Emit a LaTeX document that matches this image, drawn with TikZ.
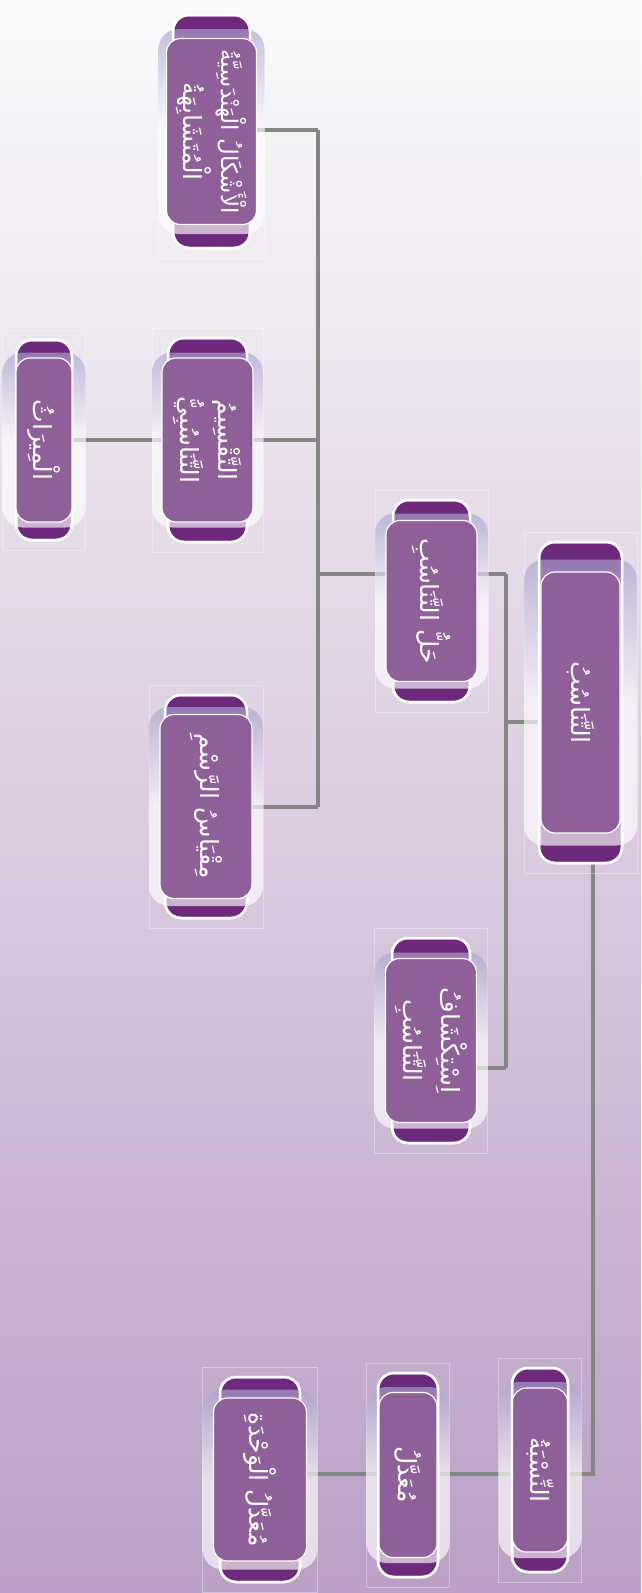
\documentclass[tikz,border=0pt]{standalone}
\usepackage{fontspec}
\newfontfamily\arabicfont[Script=Arabic]{DejaVu Sans}
\TeXXeTstate=1
\usetikzlibrary{calc}
\pgfdeclarelayer{bg}
\pgfdeclarelayer{lines}
\pgfsetlayers{bg,lines,main}
\definecolor{capc}{HTML}{6D2A7C}
\definecolor{innc}{HTML}{8E5F99}
\definecolor{linec}{HTML}{858585}
\definecolor{bgtop}{HTML}{FAFAFB}
\definecolor{bgmid}{HTML}{DCCDE0}
\definecolor{bgbot}{HTML}{B9A0C4}
\definecolor{glowtop}{HTML}{A9A4CE}
\tikzset{
 capsule/.style={draw=white, line width=2.5pt, fill=capc, rounded corners=16pt, inner sep=0pt, outer sep=0pt},
 capline/.style={draw=white, line width=2.5pt, rounded corners=16pt, inner sep=0pt, outer sep=0pt},
 glow/.style={rounded corners=20pt, top color=glowtop, bottom color=white, middle color=white, fill opacity=0.65},
 innerbox/.style={draw=white, line width=1.2pt, fill=innc, rounded corners=14pt, inner sep=0pt},
 lbl/.style={text=white, font=\arabicfont\fontsize{25}{38}\selectfont, align=center, rotate=-90, inner sep=0pt},
 conn/.style={draw=linec, line width=4pt},
 faintframe/.style={draw=white, draw opacity=0.35, line width=0.6pt}
}
% #1 name, #2 centre, #3 capsule w, #4 capsule h, #5 glow w, #6 glow h, #7 inner w, #8 inner h, #9 text
\newcommand\pnode[9]{%
 \path[faintframe] ($(#2)+(-#5/2,-#4/2-10)$) rectangle ($(#2)+(#5/2,#4/2+10)$);
 \node[capsule, minimum width=#3pt, minimum height=#4pt] (#1) at (#2) {};
 \path[glow] ($(#1.center)+(-#5/2,-#6/2)$) rectangle ($(#1.center)+(#5/2,#6/2)$);
 \node[capline, minimum width=#3pt, minimum height=#4pt] (#1-b) at (#2) {};
 \node[innerbox, minimum width=#7pt, minimum height=#8pt] (#1-i) at (#2) {};
 \node[lbl] (#1-t) at (#2) {#9};
}
\begin{document}
\begin{tikzpicture}[x=1pt,y=-1pt]
\useasboundingbox (0,0) rectangle (641,1593);
\begin{pgfonlayer}{bg}
\fill[top color=bgtop, bottom color=bgbot, middle color=bgmid] (0,0) rectangle (641,1593);
\end{pgfonlayer}

\pnode{root}{580.5,702.5}{83}{321}{113}{286}{79}{261}{\beginR التَّنَاسُبُ\endR}
\pnode{hal}{431.5,601}{77}{202}{113}{175}{91}{161}{\beginR حَلُّ التَّنَاسُبِ\endR}
\pnode{istik}{431,1040.5}{78}{205}{113}{176}{91}{164}{\beginR اِسْتِكْشَافُ\endR\\\beginR التَّنَاسُبِ\endR}
\pnode{ashkal}{211.5,131.5}{77}{233}{106}{205}{90}{186}{\fontsize{23}{36}\selectfont\beginR الْأَشْكَالُ الْهَنْدَسِيَّةُ\endR\\\beginR الْمُتَشَابِهَةُ\endR}
\pnode{taqsim}{207.5,440}{79}{204}{111}{175}{91}{164}{\beginR التَّقْسِيمُ\endR\\\beginR التَّنَاسُبِيُّ\endR}
\pnode{mirath}{44,440}{56}{200}{83}{175}{56}{164}{\beginR الْمِيرَاثُ\endR}
\pnode{miqyas}{206,806.5}{82}{223}{114}{199}{92}{184}{\beginR مِقْيَاسُ الرَّسْمِ\endR}
\pnode{nisba}{540,1470}{56}{204}{83}{176}{55}{164}{\beginR النِّسْبَةُ\endR}
\pnode{muaddal}{408,1475}{60}{204}{83}{176}{58}{165}{\beginR مُعَدَّلُ\endR}
\pnode{wahda}{260,1479.5}{80}{205}{115}{180}{93}{163}{\beginR مُعَدَّلُ الْوَحْدَةِ\endR}

\coordinate (jLt) at (318,130);
\coordinate (jLm) at (318,574);
\coordinate (jLb) at (318,807);
\coordinate (jRt) at (506,574);
\coordinate (jRm) at (506,722);
\coordinate (jRb) at (506,1068);
\coordinate (jB) at (593,1474);

\begin{pgfonlayer}{lines}
\draw[conn] (jLt) -- (jLb);
\draw[conn] (ashkal.east |- jLt) -- (jLt);
\draw[conn] (taqsim.east) -- (taqsim.east -| jLm);
\draw[conn] (miqyas.east |- jLb) -- (jLb);
\draw[conn] (hal.west |- jLm) -- (jLm);
\draw[conn] (mirath.east) -- (taqsim.west);
\draw[conn] (jRt) -- (jRb);
\draw[conn] (hal.east |- jRt) -- (jRt);
\draw[conn] (istik.east |- jRb) -- (jRb);
\draw[conn] (root.west |- jRm) -- (jRm);
\draw[conn] (root.south -| jB) -- (jB) -- (nisba.east |- jB);
\draw[conn] (nisba.west |- jB) -- (muaddal.east |- jB);
\draw[conn] (muaddal.west |- jB) -- (wahda.east |- jB);
\end{pgfonlayer}
\end{tikzpicture}
\end{document}
